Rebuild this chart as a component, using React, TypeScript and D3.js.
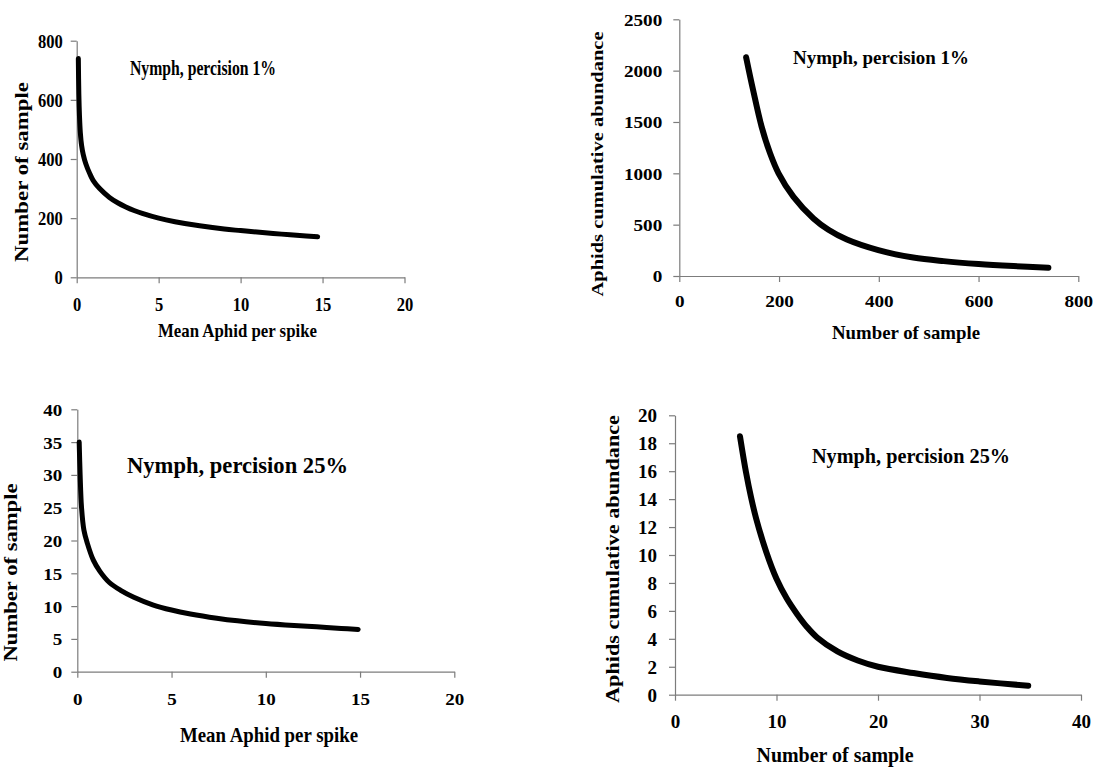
import React, { useEffect, useRef } from "react";
import * as d3 from "d3";

// ---------- data ----------
// Panel 1: Nymph, precision 1% — samples vs mean aphid per spike
const p1Mean = [0.1, 0.13, 0.17, 0.22, 0.3, 0.4, 0.55, 0.8, 1.0, 1.4, 2.0, 2.5, 3.0, 3.5, 4.0, 5.0, 6.0, 7.5, 9.0, 10.0, 11.0, 12.5, 14.0, 14.7];
const p1Samples = [740, 620, 545, 490, 445, 415, 385, 350, 328, 300, 270, 252, 238, 226, 216, 200, 188, 174, 163, 158, 153, 146, 140, 137];
const p1XTicks = [0, 5, 10, 15, 20];
const p1YTicks = [0, 200, 400, 600, 800];

// Panel 2: Nymph, precision 1% — cumulative abundance vs samples
const p2Samples = [134, 148, 165, 182, 199, 229, 269, 299, 336, 399, 469, 530, 600, 670, 740];
const p2Abund = [2130, 1810, 1455, 1195, 1000, 770, 560, 450, 355, 252, 180, 145, 117, 97, 81];
const p2XTicks = [0, 200, 400, 600, 800];
const p2YTicks = [0, 500, 1000, 1500, 2000, 2500];

// Panel 3: Nymph, precision 25% — samples vs mean aphid per spike
const p3Mean = [0.1, 0.15, 0.22, 0.35, 0.53, 0.85, 1.2, 1.7, 2.3, 3.0, 4.0, 5.0, 6.0, 7.4, 8.5, 10, 11.5, 12.7, 14, 14.9];
const p3Samples = [35, 30, 25.2, 21.6, 19.6, 17.0, 15.3, 13.6, 12.4, 11.35, 10.2, 9.4, 8.8, 8.15, 7.75, 7.35, 7.05, 6.85, 6.6, 6.45];
const p3XTicks = [0, 5, 10, 15, 20];
const p3YTicks = [0, 5, 10, 15, 20, 25, 30, 35, 40];

// Panel 4: Nymph, precision 25% — cumulative abundance vs samples
const p4Samples = [6.4, 7.0, 7.5, 8.0, 9.0, 10.0, 11.0, 12.0, 13.0, 14.0, 16.0, 18.0, 20.0, 23.5, 26.8, 30.0, 34.8];
const p4Abund = [18.5, 15.9, 14.1, 12.6, 10.2, 8.3, 6.9, 5.8, 4.85, 4.1, 3.1, 2.45, 2.0, 1.55, 1.2, 0.95, 0.64];
const p4XTicks = [0, 10, 20, 30, 40];
const p4YTicks = [0, 2, 4, 6, 8, 10, 12, 14, 16, 18, 20];

const FONT = "'Liberation Serif', 'Times New Roman', Times, serif";
const AXIS_COLOR = "#7c7c7c";

type Txt = { text: string; x: number; y: number; size: number; len: number };
type PanelCfg = {
  xs: number[];
  ys: number[];
  xTicks: number[];
  yTicks: number[];
  left: number;
  right: number;
  top: number;
  bottom: number;
  tickFont: number;
  tickSx: number;
  yGap: number;
  xOff: number;
  lw: number;
  title: Txt;
  xLabel: Txt;
  yLabel: Txt;
};

const panels: PanelCfg[] = [
  {
    xs: p1Mean, ys: p1Samples, xTicks: p1XTicks, yTicks: p1YTicks,
    left: 76.7, right: 404.5, top: 40.7, bottom: 277.3,
    tickFont: 18, tickSx: 0.92, yGap: 14, xOff: 33.5, lw: 5,
    title: { text: "Nymph, percision 1%", x: 203, y: 75, size: 20, len: 146 },
    xLabel: { text: "Mean Aphid per spike", x: 237.5, y: 337, size: 19, len: 159 },
    yLabel: { text: "Number of sample", x: 28, y: 172, size: 19, len: 180 },
  },
  {
    xs: p2Samples, ys: p2Abund, xTicks: p2XTicks, yTicks: p2YTicks,
    left: 679.3, right: 1078.3, top: 19.3, bottom: 276,
    tickFont: 17, tickSx: 1.13, yGap: 17, xOff: 31, lw: 6,
    title: { text: "Nymph, percision 1%", x: 881, y: 64, size: 18, len: 176 },
    xLabel: { text: "Number of sample", x: 906, y: 339, size: 19, len: 148 },
    yLabel: { text: "Aphids cumulative abundance", x: 602.7, y: 164, size: 17, len: 265 },
  },
  {
    xs: p3Mean, ys: p3Samples, xTicks: p3XTicks, yTicks: p3YTicks,
    left: 77.3, right: 454.3, top: 409.3, bottom: 671.7,
    tickFont: 17, tickSx: 1.12, yGap: 15, xOff: 33, lw: 5,
    title: { text: "Nymph, percision 25%", x: 237.5, y: 472.7, size: 24, len: 221 },
    xLabel: { text: "Mean Aphid per spike", x: 269, y: 741.7, size: 21, len: 178 },
    yLabel: { text: "Number of sample", x: 17.3, y: 572.5, size: 18, len: 178 },
  },
  {
    xs: p4Samples, ys: p4Abund, xTicks: p4XTicks, yTicks: p4YTicks,
    left: 675, right: 1081, top: 415.3, bottom: 694.7,
    tickFont: 18.5, tickSx: 1.03, yGap: 18, xOff: 33, lw: 6,
    title: { text: "Nymph, percision 25%", x: 911, y: 463, size: 21, len: 198 },
    xLabel: { text: "Number of sample", x: 835, y: 761.7, size: 21, len: 157 },
    yLabel: { text: "Aphids cumulative abundance", x: 619.3, y: 559, size: 19, len: 288 },
  },
];

function Panel({ cfg }: { cfg: PanelCfg }) {
  const gx = useRef<SVGGElement>(null);
  const gy = useRef<SVGGElement>(null);
  const xDomain = [cfg.xTicks[0], cfg.xTicks[cfg.xTicks.length - 1]];
  const yDomain = [cfg.yTicks[0], cfg.yTicks[cfg.yTicks.length - 1]];
  const x = d3.scaleLinear().domain(xDomain).range([cfg.left, cfg.right]);
  const y = d3.scaleLinear().domain(yDomain).range([cfg.bottom, cfg.top]);

  useEffect(() => {
    const styleAxis = (sel: any) => {
      sel.attr("font-family", FONT).attr("font-size", cfg.tickFont).attr("font-weight", "bold");
      sel.select(".domain").attr("stroke", AXIS_COLOR).attr("stroke-width", 1.2);
      sel.selectAll(".tick line").attr("stroke", AXIS_COLOR).attr("stroke-width", 1.2);
      sel
        .selectAll(".tick text")
        .attr("fill", "#000")
        .style("font-family", FONT)
        .style("font-size", `${cfg.tickFont}px`)
        .style("font-weight", "bold");
    };
    const ax = d3.axisBottom(x).tickValues(cfg.xTicks).tickSize(6).tickSizeOuter(0).tickFormat(d3.format("d"));
    const sx = d3.select(gx.current!);
    sx.selectAll("*").remove();
    sx.call(ax as any);
    styleAxis(sx);
    sx.selectAll(".tick text")
      .attr("y", 0)
      .attr("dy", null)
      .attr("transform", `translate(0,${cfg.xOff}) scale(${cfg.tickSx},1)`);

    const ay = d3.axisLeft(y).tickValues(cfg.yTicks).tickSize(6).tickSizeOuter(0).tickFormat(d3.format("d"));
    const sy = d3.select(gy.current!);
    sy.selectAll("*").remove();
    sy.call(ay as any);
    styleAxis(sy);
    sy.selectAll(".tick text")
      .attr("x", 0)
      .attr("dy", "0.35em")
      .attr("transform", `translate(${-cfg.yGap},0) scale(${cfg.tickSx},1)`);
  });

  const line = d3
    .line<number>()
    .x((_, i) => x(cfg.xs[i]))
    .y((d) => y(d))
    .curve(d3.curveCatmullRom.alpha(0.5));

  const txtProps = (t: Txt) => ({
    fontFamily: FONT,
    fontWeight: "bold" as const,
    fontSize: t.size,
    textAnchor: "middle" as const,
    textLength: t.len,
    lengthAdjust: "spacingAndGlyphs",
    fill: "#000",
  });

  return (
    <g>
      <g ref={gx} transform={`translate(0,${cfg.bottom})`} />
      <g ref={gy} transform={`translate(${cfg.left},0)`} />
      <path
        d={line(cfg.ys) || ""}
        fill="none"
        stroke="#000"
        strokeWidth={cfg.lw}
        strokeLinecap="round"
        strokeLinejoin="round"
      />
      <text x={cfg.title.x} y={cfg.title.y} {...txtProps(cfg.title)}>
        {cfg.title.text}
      </text>
      <text x={cfg.xLabel.x} y={cfg.xLabel.y} {...txtProps(cfg.xLabel)}>
        {cfg.xLabel.text}
      </text>
      <text transform={`translate(${cfg.yLabel.x},${cfg.yLabel.y}) rotate(-90)`} {...txtProps(cfg.yLabel)}>
        {cfg.yLabel.text}
      </text>
    </g>
  );
}

export default function App() {
  return (
    <svg
      width={1093}
      height={773}
      viewBox="0 0 1093 773"
      style={{ position: "absolute", left: 0, top: 0, background: "#fff", display: "block" }}
    >
      <rect x={0} y={0} width={1093} height={773} fill="#fff" />
      {panels.map((p, i) => (
        <Panel key={i} cfg={p} />
      ))}
    </svg>
  );
}
